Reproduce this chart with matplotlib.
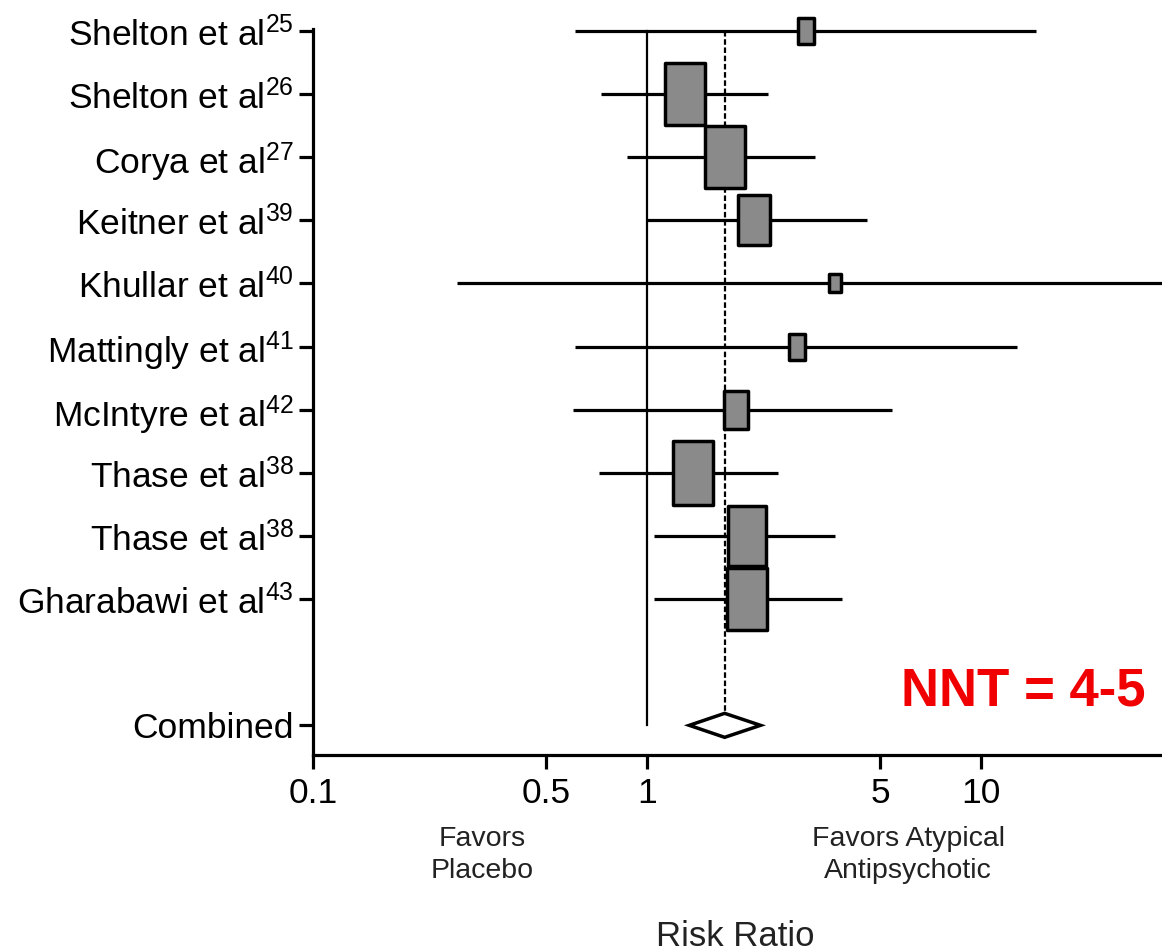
import matplotlib
matplotlib.use('Agg')
import matplotlib.pyplot as plt
from matplotlib.path import Path
import numpy as np

plt.rcParams['font.family'] = ['Liberation Sans', 'DejaVu Sans']
plt.rcParams['mathtext.fontset'] = 'custom'
plt.rcParams['mathtext.rm'] = 'Liberation Sans'
plt.rcParams['mathtext.it'] = 'Liberation Sans:italic'
plt.rcParams['mathtext.bf'] = 'Liberation Sans:bold'

# ---------------- data ----------------
studies = ["Shelton et al", "Shelton et al", "Corya et al", "Keitner et al",
           "Khullar et al", "Mattingly et al", "McIntyre et al", "Thase et al",
           "Thase et al", "Gharabawi et al"]
refs = ["25", "26", "27", "39", "40", "41", "42", "38", "38", "43"]
risk_ratio = [2.99, 1.30, 1.71, 2.09, 3.67, 2.82, 1.85, 1.37, 1.99, 2.00]
ci_low = [0.61, 0.73, 0.87, 1.00, 0.27, 0.61, 0.60, 0.72, 1.05, 1.05]
ci_high = [14.6, 2.31, 3.19, 4.55, 40.0, 12.8, 5.42, 2.47, 3.65, 3.83]
weights = [3.0, 15.5, 15.0, 10.0, 1.7, 3.2, 6.0, 16.0, 14.6, 15.0]
combined_label = "Combined"
combined_rr = 1.71
combined_low = 1.34
combined_high = 2.19
xticks = [0.1, 0.5, 1, 5, 10]
xtick_labels = ["0.1", "0.5", "1", "5", "10"]
nnt_text = "NNT = 4-5"

# ---------------- figure ----------------
W, H = 1162, 952
fig = plt.figure(figsize=(W / 100, H / 100), dpi=100)
ax = fig.add_axes([313 / W, 1 - 755 / H, 1 - 313 / W, (755 - 29) / H])

n = len(studies)
ypos = np.arange(n)
y_comb = n + 1

lw = 2.3
# reference lines
ax.plot([1, 1], [0, y_comb], color='black', lw=1.6, zorder=1)
dh = 0.19
ax.plot([combined_rr, combined_rr], [0, y_comb - dh], color='black', lw=1.6,
        ls=(0, (2.5, 1.2)), zorder=1)

# box marker (tall rectangle)
rect = Path([(-0.32, -0.5), (0.32, -0.5), (0.32, 0.5), (-0.32, 0.5), (-0.32, -0.5)],
            [Path.MOVETO, Path.LINETO, Path.LINETO, Path.LINETO, Path.CLOSEPOLY])

for i in range(n):
    ax.plot([ci_low[i], ci_high[i]], [ypos[i], ypos[i]], color='black', lw=lw,
            solid_capstyle='butt', zorder=2)
    h_pt = 16.76 * np.sqrt(weights[i]) * 0.72
    ax.plot(risk_ratio[i], ypos[i], marker=rect, ms=h_pt - 2.5,
            mfc='#8a8a8a', mec='black', mew=2.5, zorder=4, clip_on=False)

# combined diamond
ax.fill([combined_low, combined_rr, combined_high, combined_rr],
        [y_comb, y_comb - dh, y_comb, y_comb + dh],
        facecolor='white', edgecolor='black', lw=2.5, zorder=3, joinstyle='miter')

ax.set_xscale('log')
ax.set_xlim(0.1, 10 ** 1.543)
ax.set_ylim(n + 1.47, -0.03)

ax.set_xticks(xticks)
ax.set_xticklabels(xtick_labels)
ax.xaxis.set_minor_locator(matplotlib.ticker.NullLocator())

ylabels = [f"{s}$^{{\\mathrm{{{r}}}}}$" for s, r in zip(studies, refs)] + [combined_label]
ax.set_yticks(list(ypos) + [y_comb])
ax.set_yticklabels(ylabels)

for sp in ['top', 'right']:
    ax.spines[sp].set_visible(False)
for sp in ['left', 'bottom']:
    ax.spines[sp].set_linewidth(lw)
ax.tick_params(axis='both', length=10, width=lw, direction='out',
               labelsize=25.5, colors='black')
ax.tick_params(axis='y', pad=4)
ax.tick_params(axis='x', pad=6)

# annotations
fig.text(482 / W, 1 - 855 / H, "Favors\nPlacebo", ha='center', va='center',
         fontsize=20.5, color='#222222', linespacing=1.32)
fig.text(908 / W, 1 - 855 / H, "Favors Atypical\nAntipsychotic", ha='center',
         va='center', fontsize=20.5, color='#222222', linespacing=1.32)
fig.text(735 / W, 1 - 936 / H, "Risk Ratio", ha='center', va='center',
         fontsize=25, color='#222222')
fig.text(1146 / W, 1 - 692 / H, nnt_text, ha='right', va='center',
         fontsize=38, fontweight='bold', color='#f00000')

fig.savefig('out.png', dpi=100)
